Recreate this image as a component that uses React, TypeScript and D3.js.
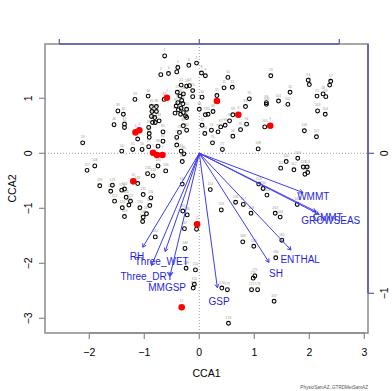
import * as d3 from 'd3'

const W = 392
const H = 391
const plot = { left: 45, right: 368, top: 44, bottom: 333 }
const font = 'Liberation Sans, Arial, Helvetica, sans-serif'

// axis limits (CCA units) as in the R plot region
const xLim = [-2.805, 3.067]
const yLim = [-3.267, 1.987]
const xTicks = [-2, -1, 0, 1, 2, 3]
const yTicks = [-3, -2, -1, 0, 1]
// biplot axes (top / right), arrow multiplier
const arrowMul = 2.545
const topTicks = [-1, 0, 1]
const rightTicks = [-1, 0]
const rightTickLabels = ['-1', '0']

// site scores
const siteCCA1 = [
  -0.63, -0.70, -0.56, -0.41, -0.39, -0.19, -0.05, 0.04, 0.11, 0.52, 0.45, 0.60, 1.30, 1.98, 2.00, 2.37, 2.39, 2.25, 2.30, 1.65,
  2.14, -0.33, -0.23, -0.18, -0.12, -0.29, -0.40, -0.35, -0.12, 0.05, 0.32, -0.64, -1.17, -0.93, -0.87, -0.78, -0.86, -0.78, -1.48, -1.38,
  -0.87, -0.81, -0.73, -0.85, -0.80, -1.55, -1.36, -1.36, -0.92, -0.91, -0.91, -1.12, -2.12, -1.41, -1.21, -1.04, -0.92, -0.32, -0.39, -0.30,
  -0.42, -0.33, -0.38, -0.23, -0.44, -0.34, -0.25, 0.00, 0.25, 0.16, 0.11, 0.05, 0.10, 0.22, 0.34, 0.24, 0.42, -0.36, -0.41, -0.23,
  -0.66, -0.66, -0.41, -0.33, -0.28, -0.75, -0.29, -0.23, -0.29, 0.61, 0.91, 0.84, 0.61, 0.86, 0.75, 0.47, 0.39, 0.55, 1.22, 1.22,
  1.44, 1.61, 2.15, 2.29, 1.19, 1.91, 2.13, 1.07, 1.79, 1.58, 1.48, 1.72, 1.89, 1.96, 1.97, 1.92, -2.04, -1.90, -1.81, -1.61,
  -1.58, -1.54, -1.41, -1.36, -1.33, -1.40, -1.25, -1.28, -1.36, -1.08, -1.02, -1.12, -0.94, -0.84, -0.75, -0.61, -0.96, -1.02, -1.03, -0.90,
  -0.88, -0.80, -0.31, -0.31, -0.30, -0.22, -0.27, -0.26, -0.24, -0.07, -0.09, -0.11, -0.05, 0.20, 0.40, 0.66, 0.80, 0.94, 1.08, 1.16,
  1.23, 1.78, 1.38, 1.47, 1.50, 1.39, 1.36, 0.79, 0.99, 0.98, 1.01, 0.95, 1.06, 0.41, 0.51, 0.53,
]
const siteCCA2 = [
  1.77, 1.43, 1.45, 1.48, 1.56, 1.60, 1.64, 1.46, 1.41, 1.38, 1.19, 1.20, 1.41, 1.33, 1.25, 1.24, 1.31, 1.08, 1.03, 1.11,
  1.04, 1.24, 1.22, 1.23, 1.14, 1.08, 1.11, 1.04, 1.03, 1.02, 1.05, 0.98, 0.98, 1.04, 0.85, 0.85, 0.76, 0.76, 0.77, 0.71,
  0.67, 0.65, 0.59, 0.56, 0.56, 0.52, 0.53, 0.47, 0.47, 0.36, 0.29, 0.26, 0.19, 0.04, 0.07, 0.07, 0.12, 0.96, 0.92, 0.90,
  0.86, 0.82, 0.79, 0.80, 0.73, 0.71, 0.68, 0.80, 0.76, 0.71, 0.70, 0.51, 0.36, 0.42, 0.39, 0.19, 0.07, 0.38, 0.29, 0.42,
  0.39, 0.22, 0.15, 0.04, -0.01, 0.13, 0.74, 0.65, 0.50, 0.31, 0.99, 0.85, 0.70, 0.53, 0.43, 0.51, 0.48, 0.59, 0.92, 0.89,
  0.95, 0.89, 0.77, 0.71, 0.48, 0.41, 0.30, 0.08, -0.09, -0.15, -0.27, -0.30, -0.25, -0.25, -0.35, -0.38, -0.31, -0.23, -0.59, -0.69,
  -0.58, -0.87, -0.67, -0.65, -0.80, -0.99, -0.87, -0.94, -1.15, -0.99, -0.75, -0.55, -0.37, -0.41, -0.23, -0.32, -1.10, -1.16, -1.24, -0.95,
  -0.81, -1.52, -0.15, -0.56, -1.05, -1.12, -1.37, -1.73, -2.09, -2.12, -2.38, -2.45, -1.38, -0.66, -1.03, -0.89, -0.93, -1.09, -0.56, -0.64,
  -0.76, -0.93, -1.09, -1.16, -1.58, -1.90, -2.69, -1.61, -1.69, -2.27, -2.23, -2.48, -2.48, -2.45, -2.48, -3.09,
]

// sites highlighted in red
const redCCA1 = [0.32, -0.59, -1.16, -1.09, -0.84, -0.77, -0.67, 0.71, 1.29, -1.20, -0.04, -0.32]
const redCCA2 = [0.95, 1.01, 0.38, 0.42, 0.01, -0.03, -0.03, 0.70, 0.50, -0.51, -1.29, -2.80]

// environmental biplot scores
const envVars = ['WMMT', 'CMMT', 'GROWSEAS', 'ENTHAL', 'SH', 'GSP', 'RH', 'Three_WET', 'Three_DRY', 'MMGSP']
const envCCA1 = [0.74, 0.834, 0.854, 0.655, 0.498, 0.129, -0.404, -0.244, -0.341, -0.209]
const envCCA2 = [-0.28, -0.416, -0.435, -0.691, -0.779, -0.96, -0.671, -0.701, -0.801, -0.874]

const minus = (t: number) => (t < 0 ? '\u2212' + Math.abs(t) : String(t))

function headPath(x1: number, y1: number, x2: number, y2: number, len = 4) {
  const a = Math.atan2(y2 - y1, x2 - x1)
  const p1 = [x2 - len * Math.cos(a - Math.PI / 6), y2 - len * Math.sin(a - Math.PI / 6)]
  const p2 = [x2 - len * Math.cos(a + Math.PI / 6), y2 - len * Math.sin(a + Math.PI / 6)]
  return `M${p1[0]},${p1[1]}L${x2},${y2}L${p2[0]},${p2[1]}`
}

export default function App() {
  const x = d3.scaleLinear().domain(xLim).range([plot.left, plot.right])
  const y = d3.scaleLinear().domain(yLim).range([plot.bottom, plot.top])
  const x0 = x(0)
  const y0 = y(0)
  const axisCol = '#8a8a8a'
  const bipCol = '#5a5cab'

  return (
    <svg width={W} height={H} style={{ position: 'absolute', left: 0, top: 0, background: '#fff' }} fontFamily={font}>
      {/* origin lines */}
      <line x1={plot.left} x2={plot.right} y1={y0} y2={y0} stroke="#9a9ab4" strokeDasharray="1,2" />
      <line x1={x0} x2={x0} y1={plot.top} y2={plot.bottom} stroke="#9a9ab4" strokeDasharray="1,2" />

      {/* site labels */}
      {siteCCA1.map((v, i) => (
        <text key={'sl' + i} x={x(v)} y={y(siteCCA2[i]) - 4.5} fontSize={3.4} fill="#8fa07c" textAnchor="middle">
          {i + 1}
        </text>
      ))}
      {redCCA1.map((v, i) => (
        <text key={'rl' + i} x={x(v)} y={y(redCCA2[i]) - 5.5} fontSize={3.4} fill="#e07ae0" textAnchor="middle">
          {i + 1}
        </text>
      ))}

      {/* sites */}
      {siteCCA1.map((v, i) => (
        <circle key={'s' + i} cx={x(v)} cy={y(siteCCA2[i])} r={1.9} fill="none" stroke="#000" strokeWidth={1.1} />
      ))}
      {redCCA1.map((v, i) => (
        <circle key={'r' + i} cx={x(v)} cy={y(redCCA2[i])} r={3.3} fill="#f00" />
      ))}

      {/* biplot arrows */}
      {envVars.map((name, i) => {
        const ex = x(envCCA1[i] * arrowMul)
        const ey = y(envCCA2[i] * arrowMul)
        const lx = x(envCCA1[i] * arrowMul * 1.1)
        const ly = y(envCCA2[i] * arrowMul * 1.1)
        return (
          <g key={name}>
            <line x1={x0} y1={y0} x2={ex} y2={ey} stroke="#3c3cee" strokeWidth={1} />
            <path d={headPath(x0, y0, ex, ey)} fill="none" stroke="#3c3cee" strokeWidth={1} />
            <text x={lx} y={ly} dy="0.35em" fontSize={10} fill="#1f1fdd" textAnchor="middle">
              {name}
            </text>
          </g>
        )
      })}

      {/* box */}
      <rect x={plot.left} y={plot.top} width={plot.right - plot.left} height={plot.bottom - plot.top} fill="none" stroke={axisCol} strokeWidth={1.5} />

      {/* bottom axis */}
      <line x1={x(xTicks[0])} x2={x(xTicks[xTicks.length - 1])} y1={plot.bottom} y2={plot.bottom} stroke={axisCol} strokeWidth={1.5} />
      {xTicks.map((t) => (
        <g key={'xt' + t}>
          <line x1={x(t)} x2={x(t)} y1={plot.bottom} y2={plot.bottom + 6} stroke={axisCol} strokeWidth={1.2} />
          <text x={x(t)} y={plot.bottom + 23} fontSize={10.5} textAnchor="middle" fill="#000">
            {minus(t)}
          </text>
        </g>
      ))}
      <text x={(plot.left + plot.right) / 2} y={377} fontSize={10.5} textAnchor="middle" fill="#000">
        CCA1
      </text>

      {/* left axis */}
      {yTicks.map((t) => (
        <g key={'yt' + t}>
          <line x1={plot.left - 6} x2={plot.left} y1={y(t)} y2={y(t)} stroke={axisCol} strokeWidth={1.2} />
          <text transform={`translate(${plot.left - 13},${y(t)}) rotate(-90)`} fontSize={10.5} textAnchor="middle" fill="#000">
            {minus(t)}
          </text>
        </g>
      ))}
      <text transform={`translate(16,${(plot.top + plot.bottom) / 2}) rotate(-90)`} fontSize={10.5} textAnchor="middle" fill="#000">
        CCA2
      </text>

      {/* top biplot axis */}
      <line x1={x(topTicks[0] * arrowMul)} x2={x(topTicks[topTicks.length - 1] * arrowMul)} y1={plot.top} y2={plot.top} stroke={bipCol} strokeWidth={1.6} />
      {topTicks.map((t) => (
        <line key={'tt' + t} x1={x(t * arrowMul)} x2={x(t * arrowMul)} y1={plot.top} y2={plot.top - 5} stroke={bipCol} strokeWidth={1.2} />
      ))}

      {/* right biplot axis */}
      <line x1={plot.right} x2={plot.right} y1={plot.top} y2={y(rightTicks[0] * arrowMul)} stroke={bipCol} strokeWidth={1.6} />
      {rightTicks.map((t, i) => (
        <g key={'rt' + t}>
          <line x1={plot.right} x2={plot.right + 6} y1={y(t * arrowMul)} y2={y(t * arrowMul)} stroke={bipCol} strokeWidth={1.2} />
          <text transform={`translate(${plot.right + 20},${y(t * arrowMul)}) rotate(-90)`} fontSize={10.5} textAnchor="middle" fill="#000">
            {rightTickLabels[i].replace('-', '\u2212')}
          </text>
        </g>
      ))}

      <text x={plot.right} y={389} fontSize={4.6} textAnchor="end" fill="#555">
        PhysioSamAZ..GTRDMetSamAZ
      </text>
    </svg>
  )
}
